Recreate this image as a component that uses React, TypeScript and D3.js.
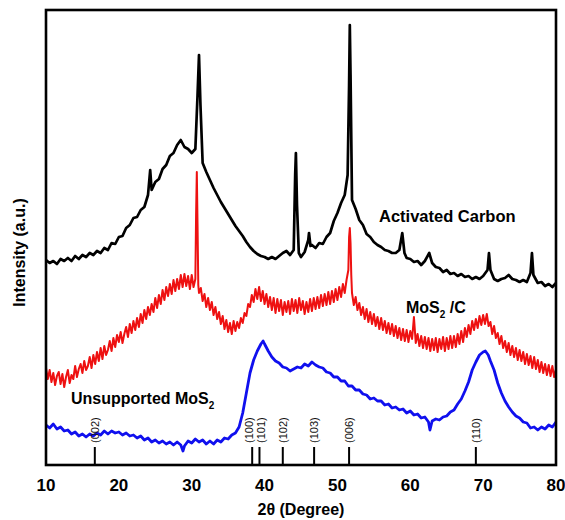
import * as d3 from 'd3';

// 2θ (deg), intensity (a.u.)
const activatedCarbon: [number, number][] = [
  [10, 205], [10.5, 202], [11, 204], [11.5, 201], [12, 206], [12.5, 204], [13, 207], [13.5, 204],
  [14, 209], [14.5, 206], [15, 210], [15.5, 208], [16, 212], [16.5, 210], [17, 214], [17.5, 212],
  [18, 217], [18.5, 215], [19, 222], [19.5, 221], [20, 228], [20.5, 229], [21, 237], [21.5, 240],
  [22, 247], [22.5, 248], [23, 255], [23.5, 258], [24, 270], [24.3, 295], [24.5, 275], [25, 283],
  [25.5, 286], [26, 296], [26.5, 300], [27, 309], [27.5, 312], [28, 320], [28.5, 325], [29, 318],
  [29.5, 316], [30, 312], [30.5, 316], [30.8, 370], [31, 410], [31.2, 360], [31.5, 302], [32, 293],
  [32.5, 285], [33, 277], [33.5, 270], [34, 263], [34.5, 257], [35, 251], [35.5, 245], [36, 239],
  [36.5, 234], [37, 229], [37.5, 223], [38, 218], [38.5, 214], [39, 211], [39.5, 209], [40, 208],
  [40.5, 206], [41, 208], [41.5, 206], [42, 209], [42.5, 212], [43, 214], [43.5, 210], [44, 215],
  [44.2, 290], [44.3, 312], [44.45, 260], [44.7, 212], [45, 208], [45.5, 213], [46, 225], [46.1, 232],
  [46.3, 219], [46.5, 220], [47, 217], [47.5, 222], [48, 221], [48.5, 228], [49, 232], [49.5, 244],
  [50, 252], [50.5, 262], [51, 270], [51.4, 290], [51.6, 380], [51.7, 440], [51.8, 390], [52, 265],
  [52.5, 256], [53, 245], [53.5, 240], [54, 231], [54.5, 228], [55, 223], [55.5, 220], [56, 218],
  [56.5, 215], [57, 214], [57.5, 212], [58, 212], [58.5, 215], [58.9, 232], [59.2, 212], [59.5, 207],
  [60, 206], [60.5, 203], [61, 204], [61.5, 200], [62, 204], [62.6, 212], [63, 202], [63.5, 198],
  [64, 197], [64.5, 193], [65, 195], [65.5, 191], [66, 192], [66.5, 189], [67, 191], [67.5, 188],
  [68, 189], [68.5, 186], [69, 188], [69.5, 186], [70, 189], [70.6, 195], [70.8, 212], [71, 195],
  [71.5, 186], [72, 184], [72.5, 186], [73, 187], [73.5, 190], [74, 186], [74.5, 185], [75, 183],
  [75.5, 185], [76, 183], [76.5, 192], [76.7, 212], [76.9, 190], [77.5, 182], [78, 183], [78.5, 179],
  [79, 181], [79.5, 178], [80, 182],
];

const mos2Carbon: [number, number][] = [
  [10, 97], [10.25, 86], [10.5, 95], [10.75, 83], [11, 92], [11.25, 80], [11.5, 89], [11.75, 93],
  [12, 81], [12.25, 91], [12.5, 78], [12.75, 88], [13, 95], [13.25, 82], [13.5, 90], [13.75, 86],
  [14, 99], [14.25, 88], [14.5, 96], [14.75, 101], [15, 92], [15.25, 104], [15.5, 95], [15.75, 99],
  [16, 108], [16.25, 97], [16.5, 110], [16.75, 101], [17, 113], [17.25, 104], [17.5, 117], [17.75, 106],
  [18, 119], [18.25, 110], [18.5, 115], [18.75, 124], [19, 114], [19.25, 127], [19.5, 118], [19.75, 130],
  [20, 123], [20.25, 133], [20.5, 122], [20.75, 131], [21, 138], [21.25, 128], [21.5, 141], [21.75, 132],
  [22, 144], [22.25, 135], [22.5, 147], [22.75, 138], [23, 151], [23.25, 142], [23.5, 155], [23.75, 146],
  [24, 158], [24.25, 150], [24.5, 161], [24.75, 153], [25, 167], [25.25, 157], [25.5, 170], [25.75, 161],
  [26, 175], [26.25, 165], [26.5, 178], [26.75, 169], [27, 181], [27.25, 171], [27.5, 185], [27.75, 174],
  [28, 186], [28.25, 176], [28.5, 190], [28.75, 178], [29, 191], [29.25, 179], [29.5, 189], [29.75, 176],
  [30, 190], [30.25, 178], [30.5, 186], [30.6, 250], [30.7, 293], [30.8, 240], [30.9, 180],
  [31, 172], [31.25, 177], [31.5, 164], [31.75, 171], [32, 158], [32.25, 167], [32.5, 155], [32.75, 163],
  [33, 150], [33.25, 158], [33.5, 146], [33.75, 153], [34, 141], [34.25, 149], [34.5, 136], [34.75, 145],
  [35, 133], [35.25, 142], [35.5, 131], [35.75, 144], [36, 134], [36.25, 143], [36.5, 137], [36.75, 147],
  [37, 142], [37.25, 152], [37.5, 149], [37.75, 161], [38, 158], [38.25, 170], [38.5, 163], [38.75, 176],
  [39, 166], [39.25, 178], [39.5, 164], [39.75, 174], [40, 161], [40.25, 171], [40.5, 158], [40.75, 168],
  [41, 155], [41.25, 167], [41.5, 152], [41.75, 166], [42, 154], [42.25, 165], [42.5, 150], [42.75, 163],
  [43, 153], [43.25, 164], [43.5, 151], [43.75, 166], [44, 154], [44.25, 165], [44.5, 152], [44.75, 167],
  [45, 155], [45.25, 164], [45.5, 151], [45.75, 163], [46, 153], [46.25, 166], [46.5, 154], [46.75, 167],
  [47, 156], [47.25, 168], [47.5, 157], [47.75, 170], [48, 159], [48.25, 171], [48.5, 160], [48.75, 173],
  [49, 161], [49.25, 174], [49.5, 163], [49.75, 176], [50, 165], [50.25, 178], [50.5, 168], [50.75, 181],
  [51, 172], [51.25, 185], [51.5, 195], [51.6, 228], [51.7, 237], [51.8, 222], [51.9, 190],
  [52, 172], [52.25, 160], [52.5, 168], [52.75, 155], [53, 162], [53.25, 150], [53.5, 158], [53.75, 146],
  [54, 156], [54.25, 143], [54.5, 153], [54.75, 141], [55, 151], [55.25, 139], [55.5, 148], [55.75, 136],
  [56, 147], [56.25, 135], [56.5, 144], [56.75, 132], [57, 142], [57.25, 131], [57.5, 141], [57.75, 129],
  [58, 139], [58.25, 127], [58.5, 137], [58.75, 125], [59, 136], [59.25, 124], [59.5, 135], [59.75, 123],
  [60, 134], [60.25, 126], [60.5, 148], [60.75, 122], [61, 131], [61.25, 119], [61.5, 129], [61.75, 117],
  [62, 128], [62.25, 116], [62.5, 127], [62.75, 114], [63, 126], [63.25, 115], [63.5, 127], [63.75, 113],
  [64, 126], [64.25, 116], [64.5, 128], [64.75, 114], [65, 127], [65.25, 116], [65.5, 129], [65.75, 117],
  [66, 129], [66.25, 118], [66.5, 131], [66.75, 121], [67, 134], [67.25, 123], [67.5, 137], [67.75, 128],
  [68, 140], [68.25, 131], [68.5, 144], [68.75, 135], [69, 146], [69.25, 137], [69.5, 149], [69.75, 140],
  [70, 150], [70.25, 141], [70.5, 151], [70.75, 139], [71, 143], [71.25, 131], [71.5, 139], [71.75, 127],
  [72, 132], [72.25, 121], [72.5, 129], [72.75, 117], [73, 124], [73.25, 113], [73.5, 122], [73.75, 110],
  [74, 119], [74.25, 108], [74.5, 117], [74.75, 105], [75, 115], [75.25, 104], [75.5, 113], [75.75, 101],
  [76, 111], [76.25, 100], [76.5, 109], [76.75, 97], [77, 108], [77.25, 96], [77.5, 105], [77.75, 93],
  [78, 103], [78.25, 92], [78.5, 101], [78.75, 90], [79, 100], [79.25, 89], [79.5, 99], [79.75, 88],
  [80, 96],
];

const unsupportedMoS2: [number, number][] = [
  [10, 40], [10.5, 37], [11, 41], [11.5, 36], [12, 38], [12.5, 34], [13, 35], [13.5, 31],
  [14, 33], [14.5, 29], [15, 31], [15.5, 28], [16, 31], [16.5, 29], [17, 32], [17.5, 30],
  [18, 34], [18.5, 31], [19, 34], [19.5, 32], [20, 33], [20.5, 30], [21, 32], [21.5, 29],
  [22, 30], [22.5, 27], [23, 29], [23.5, 25], [24, 27], [24.5, 23], [25, 25], [25.5, 22],
  [26, 24], [26.5, 21], [27, 23], [27.5, 20], [28, 23], [28.5, 20], [28.8, 14], [29, 19],
  [29.5, 24], [30, 22], [30.5, 26], [31, 23], [31.5, 25], [32, 21], [32.5, 24], [33, 21],
  [33.5, 25], [34, 23], [34.5, 27], [35, 26], [35.5, 30], [36, 32], [36.5, 38], [37, 52],
  [37.5, 72], [38, 92], [38.5, 105], [39, 114], [39.5, 121], [39.8, 124], [40, 121], [40.5, 114],
  [41, 108], [41.5, 104], [42, 102], [42.5, 98], [43, 97], [43.5, 94], [44, 96], [44.5, 98],
  [45, 97], [45.5, 101], [46, 99], [46.5, 103], [47, 100], [47.5, 98], [48, 97], [48.5, 93],
  [49, 92], [49.5, 88], [50, 88], [50.5, 84], [51, 84], [51.5, 79], [52, 79], [52.5, 75],
  [53, 75], [53.5, 71], [54, 70], [54.5, 66], [55, 67], [55.5, 64], [56, 64], [56.5, 60],
  [57, 61], [57.5, 57], [58, 58], [58.5, 55], [59, 56], [59.5, 52], [60, 54], [60.5, 50],
  [61, 51], [61.5, 47], [62, 48], [62.5, 43], [62.7, 35], [63, 44], [63.5, 46], [64, 45],
  [64.5, 48], [65, 49], [65.5, 53], [66, 55], [66.5, 61], [67, 66], [67.5, 74], [68, 83],
  [68.5, 95], [69, 103], [69.5, 110], [70, 113], [70.3, 114], [70.7, 110], [71, 104], [71.5, 95],
  [72, 82], [72.5, 72], [73, 64], [73.5, 58], [74, 53], [74.5, 49], [75, 47], [75.5, 43],
  [76, 42], [76.5, 37], [77, 38], [77.5, 35], [78, 38], [78.5, 36], [79, 40], [79.5, 38],
  [80, 43],
];

// reference reflections for MoS2
const hklLabels = ['(002)', '(100)', '(101)', '(102)', '(103)', '(006)', '(110)'];
const hklAngles = [16.7, 38.3, 39.3, 42.5, 46.8, 51.6, 69.0];
const hklNudge = [0, -3, 2, 0, 0, 0, 0];

const xTicks = [10, 20, 30, 40, 50, 60, 70, 80];

const W = 565;
const H = 520;
const m = { t: 10, r: 9, b: 55, l: 46 };
const font = '"Liberation Sans", Arial, sans-serif';

export default function App() {
  const x = d3.scaleLinear().domain([10, 80]).range([m.l, W - m.r]);
  const y = d3.scaleLinear().domain([0, 455]).range([H - m.b, m.t]);
  const line = d3.line<[number, number]>()
    .x(d => x(d[0]))
    .y(d => y(d[1]));

  const series = [
    { data: activatedCarbon, color: '#000000', w: 2.7 },
    { data: mos2Carbon, color: '#ee1111', w: 2 },
    { data: unsupportedMoS2, color: '#1010ee', w: 2.8 },
  ];

  const bottom = H - m.b;

  return (
    <svg width={W} height={H} style={{ position: 'absolute', left: 0, top: 0 }} fontFamily={font}>
      <rect width={W} height={H} fill="white" />
      {series.map((s, i) => (
        <path key={i} d={line(s.data) ?? ''} fill="none" stroke={s.color} strokeWidth={s.w} strokeLinejoin="round" />
      ))}

      {hklAngles.map((a, i) => (
        <g key={hklLabels[i]}>
          <line x1={x(a)} x2={x(a)} y1={bottom} y2={bottom - 18} stroke="black" strokeWidth={2} />
          <text
            transform={`translate(${x(a) + 3.8 + hklNudge[i]},${bottom - 22}) rotate(-90)`}
            fontSize={11}
            fill="#111"
          >{hklLabels[i]}</text>
        </g>
      ))}

      <rect x={m.l} y={m.t} width={W - m.l - m.r} height={H - m.t - m.b} fill="none" stroke="black" strokeWidth={2.6} />

      {xTicks.map(t => (
        <text key={t} x={x(t)} y={bottom + 26} textAnchor="middle" fontSize={17} fontWeight="bold">{t}</text>
      ))}

      <text x={(m.l + W - m.r) / 2} y={H - 5} textAnchor="middle" fontSize={16} fontWeight="bold">2θ (Degree)</text>
      <text transform={`translate(25,${(m.t + bottom) / 2 + 15}) rotate(-90)`} textAnchor="middle" fontSize={16} fontWeight="bold">Intensity (a.u.)</text>

      <text x={379} y={222} fontSize={16.5} fontWeight="bold">Activated Carbon</text>
      <text x={406} y={313} fontSize={16} fontWeight="bold">
        MoS<tspan dy={5} fontSize={10}>2</tspan><tspan dy={-5}> /C</tspan>
      </text>
      <text x={71} y={404} fontSize={16} fontWeight="bold">
        Unsupported MoS<tspan dy={5} fontSize={10}>2</tspan>
      </text>
    </svg>
  );
}
